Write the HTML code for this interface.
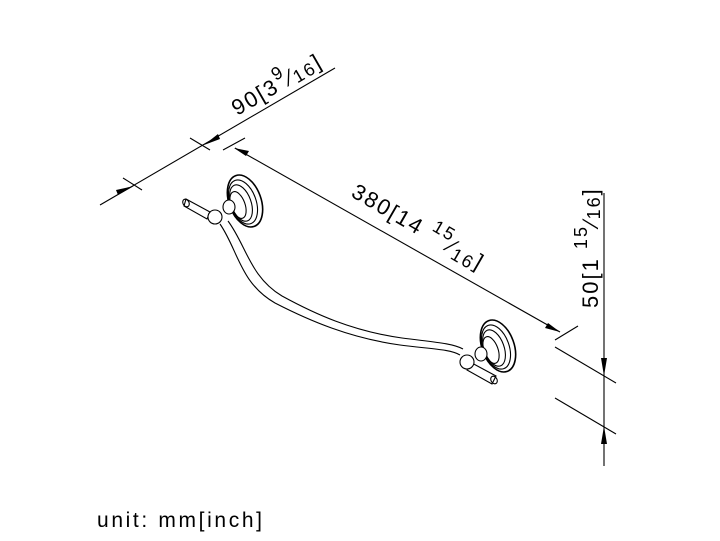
<!DOCTYPE html>
<html><head><meta charset="utf-8"><style>
html,body{margin:0;padding:0;background:#fff;width:720px;height:541px;overflow:hidden}
svg{display:block}
text{font-family:"Liberation Sans",sans-serif;fill:#000}
</style></head><body>
<svg width="720" height="541" viewBox="0 0 720 541" xmlns="http://www.w3.org/2000/svg">
<g stroke="#000" stroke-width="1.1" fill="none">
<line x1="100" y1="205" x2="335" y2="68"/>
<line x1="123" y1="178" x2="142" y2="190"/>
<line x1="190" y1="138" x2="210" y2="150"/>
<line x1="223" y1="150" x2="245" y2="138"/>
<line x1="235" y1="148" x2="560" y2="332"/>
<line x1="555" y1="340" x2="578" y2="326"/>
<line x1="604" y1="193" x2="604" y2="466"/>
<line x1="555" y1="347" x2="616" y2="383"/>
<line x1="555" y1="398" x2="616" y2="434"/>
<path d="M220,224 C238,250 240,283 275,303 C310,321 350,338 400,345 C430,349 450,349 460,355"/>
<path d="M228,221 C246,245 250,277 282,296 C315,314 352,331 402,338 C432,342 452,343 463,349"/>
<ellipse cx="245" cy="201" rx="16" ry="27" transform="rotate(-20 245 201)" stroke-width="1.6"/>
<ellipse cx="243" cy="202" rx="13" ry="23" transform="rotate(-20 243 202)"/>
<ellipse cx="241" cy="203" rx="10" ry="19" transform="rotate(-20 241 203)"/>
<ellipse cx="238" cy="205" rx="7" ry="14" transform="rotate(-20 238 205)"/>
<ellipse cx="229" cy="207" rx="6" ry="7" fill="#fff"/>
<path d="M186,199 L210,212 L207,219 L184,206 Z" fill="#fff"/>
<ellipse cx="186" cy="203" rx="3" ry="4" transform="rotate(-30 186 203)"/>
<circle cx="215" cy="217" r="7" fill="#fff"/>
<ellipse cx="498" cy="346" rx="16" ry="27" transform="rotate(-20 498 346)" stroke-width="1.6"/>
<ellipse cx="496" cy="347" rx="13" ry="23" transform="rotate(-20 496 347)"/>
<ellipse cx="494" cy="348" rx="10" ry="19" transform="rotate(-20 494 348)"/>
<ellipse cx="491" cy="350" rx="7" ry="14" transform="rotate(-20 491 350)"/>
<ellipse cx="481" cy="354" rx="6" ry="7" fill="#fff"/>
<path d="M470,362 L496,376 L492,384 L467,370 Z" fill="#fff"/>
<ellipse cx="494" cy="380" rx="3" ry="4" transform="rotate(-30 494 380)"/>
<circle cx="467" cy="362" r="7" fill="#fff"/>
</g>
<g fill="#000">
<polygon points="134,186 116,190 118,195"/>
<polygon points="204,145 218,134 220,139"/>
<polygon points="234,148 249,151 246,156"/>
<polygon points="560,332 545,328 548,323"/>
<polygon points="604,376 601,358 607,358"/>
<polygon points="604,426 601,444 607,444"/>
</g>
<text font-size="22" letter-spacing="2" transform="translate(237,116) rotate(-30)">90[3<tspan font-size="18" dy="-11">9</tspan><tspan dy="11">⁄</tspan><tspan font-size="18" dy="2">16</tspan><tspan dy="-2">]</tspan></text>
<text font-size="22" letter-spacing="2" transform="translate(350,196) rotate(30)">380[14 <tspan font-size="18" dy="-11">15</tspan><tspan dy="11">⁄</tspan><tspan font-size="18" dy="4">16</tspan><tspan dy="-4">]</tspan></text>
<text font-size="22" letter-spacing="2" transform="translate(598,308) rotate(-90)">50[1 <tspan font-size="18" dy="-11">15</tspan><tspan dy="11">⁄</tspan><tspan font-size="18" dy="2">16</tspan><tspan dy="-2">]</tspan></text>
<text font-size="21" x="97" y="527" textLength="165" lengthAdjust="spacing">unit: mm[inch]</text>
</svg>
</body></html>
